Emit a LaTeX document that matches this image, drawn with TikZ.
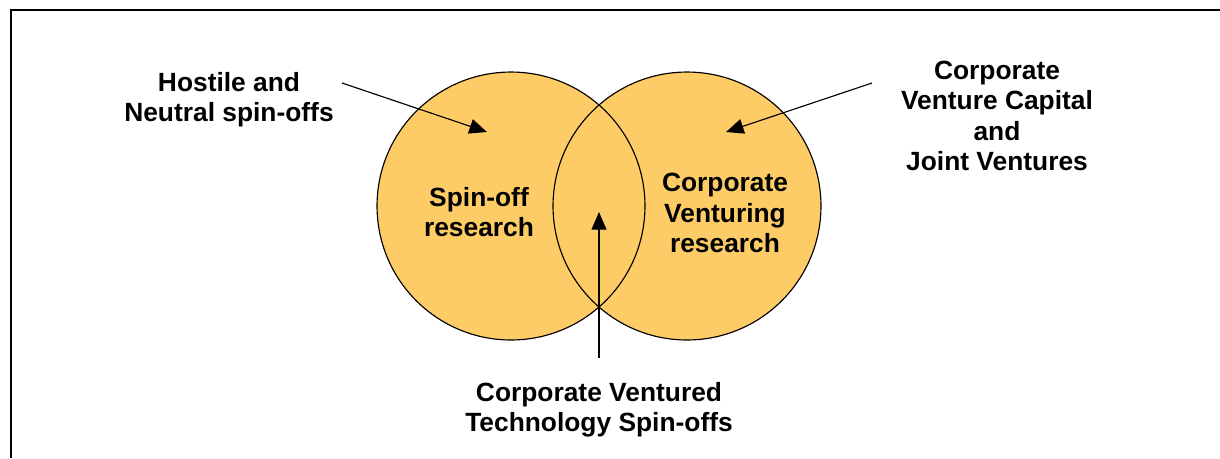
\documentclass[tikz,border=0pt]{standalone}
\usepackage{fontspec}
\setmainfont{Liberation Sans}
\usetikzlibrary{arrows.meta}
\definecolor{vennfill}{RGB}{254,204,102}

\begin{document}
\begin{tikzpicture}[x=0.02cm, y=-0.02cm,
        venn/.style={circle, minimum size=5.36cm, inner sep=0pt},
        lbl/.style={font=\fontsize{15}{17.2}\selectfont\bfseries, align=center, inner sep=0pt},
        pointer/.style={-{Triangle[length=10pt, width=8.5pt]}, line width=0.65pt}]
        \useasboundingbox (0,0) rectangle (1220,458);

        % Frame
        \draw[line width=1.2pt] (11,458) -- (11,10) -- (1220,10);

        % Circles
        \node[venn, fill=vennfill] (spinoff) at (511,206) {};
        \node[venn, fill=vennfill] (venturing) at (687,206) {};
        \node[venn, draw, line width=0.65pt] at (spinoff) {};
        \node[venn, draw, line width=0.65pt] at (venturing) {};

        % Circle labels
        \node[lbl] (spinofftext) at (479,212) {Spin-off\\research};
        \node[lbl] (venturingtext) at (725,213) {Corporate\\Venturing\\research};

        % Outside labels
        \node[lbl] (hostile) at (229,100) {Hostile and\\Neutral spin-offs};
        \node[lbl] (cvc) at (997,116) {Corporate\\Venture Capital\\and\\Joint Ventures};
        \node[lbl] (cvt) at (599,410) {Corporate Ventured\\Technology Spin-offs};

        % Arrows
        \coordinate (hostileend) at (342,83);
        \coordinate (hostiletip) at (487,132);
        \coordinate (cvcend) at (872,83);
        \coordinate (cvctip) at (726,132);
        \coordinate (cvtend) at (599,358);
        \coordinate (cvttip) at (599,212);
        \draw[pointer] (hostileend) -- (hostiletip);
        \draw[pointer] (cvcend) -- (cvctip);
        \draw[pointer] (cvtend) -- (cvttip);
\end{tikzpicture}
\end{document}
